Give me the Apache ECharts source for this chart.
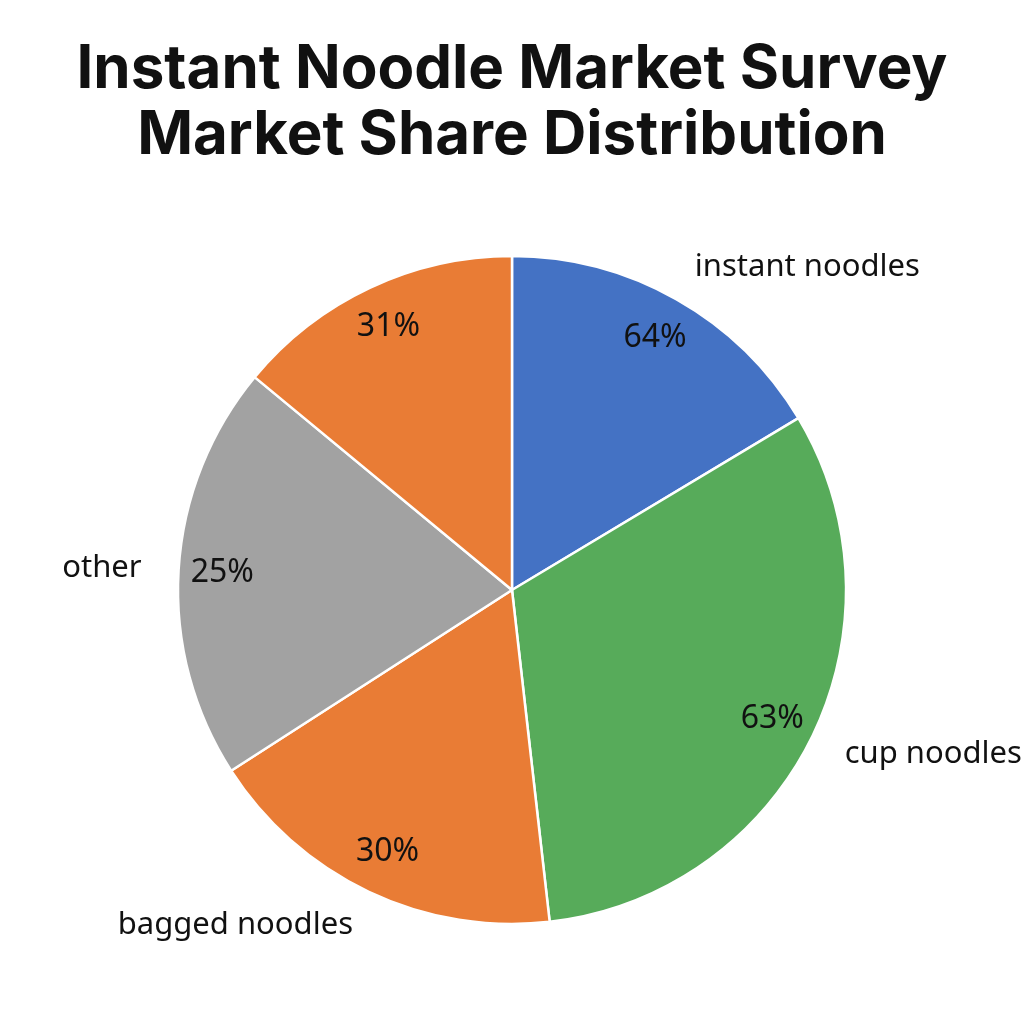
<!DOCTYPE html>
<html>
<head>
<meta charset="utf-8">
<script src="https://cdn.jsdelivr.net/npm/echarts@6/dist/echarts.min.js"></script>
<style>
html,body{margin:0;padding:0;background:#fff;}
#chart{width:1024px;height:1024px;}
</style>
</head>
<body>
<div id="chart"></div>
<script>
// Category names (the fifth slice carries no outside name in the reference)
const categories = ['instant noodles', 'cup noodles', 'bagged noodles', 'other', ''];
// Share of the circle each slice occupies (percent of 360°)
const sliceShares = [16.4, 31.8, 17.7, 20.1, 14.0];
// Percentages printed on the slices in the reference
const labelPercents = [64, 63, 30, 25, 31];
const sliceColors = ['#4472C4', '#57AB5A', '#E97C35', '#A2A2A2', '#E97C35'];

const titleLines = ['Instant Noodle Market Survey', 'Market Share Distribution'];

const chart = echarts.init(document.getElementById('chart'));

const R = 334;
const center = [512, 590];

const mainData = categories.map((name, i) => ({
  name: name,
  value: sliceShares[i],
  itemStyle: { color: sliceColors[i] },
  label: { show: name !== '' }
}));

const pctData = categories.map((name, i) => ({
  name: name + '#' + i,
  value: sliceShares[i],
  pct: labelPercents[i]
}));

chart.setOption({
  backgroundColor: '#ffffff',
  animation: false,
  title: {
    text: titleLines.join('\n'),
    left: 'center',
    top: 32,
    textStyle: {
      fontFamily: 'Inter, "Noto Sans", sans-serif',
      fontWeight: 'bold',
      fontSize: 60,
      lineHeight: 66,
      color: '#111111'
    }
  },
  series: [
    {
      type: 'pie',
      center: center,
      radius: [0, R],
      startAngle: 90,
      clockwise: true,
      avoidLabelOverlap: false,
      silent: true,
      itemStyle: { borderColor: '#ffffff', borderWidth: 2.5 },
      label: {
        show: true,
        position: 'outside',
        formatter: '{b}',
        fontFamily: '"Noto Sans", sans-serif',
        fontSize: 31,
        color: '#111111',
        distanceToLabelLine: 0
      },
      labelLine: { show: false, length: 37, length2: 0 },
      data: mainData
    },
    {
      type: 'pie',
      center: center,
      radius: [R * 0.72, R],
      startAngle: 90,
      clockwise: true,
      avoidLabelOverlap: false,
      silent: true,
      itemStyle: { color: 'rgba(0,0,0,0)', borderWidth: 0 },
      label: {
        show: true,
        position: 'inside',
        formatter: p => p.data.pct + '%',
        fontFamily: '"Noto Sans", sans-serif',
        fontSize: 32,
        color: '#111111'
      },
      labelLine: { show: false },
      data: pctData
    }
  ],
  graphic: [
    {
      type: 'text',
      right: 28,
      bottom: 30,
      style: {
        text: '豆包AI生成',
        font: 'bold 22px "Noto Sans CJK SC", sans-serif',
        fill: '#ffffff',
        shadowColor: 'rgba(0,0,0,0.25)',
        shadowBlur: 6
      }
    }
  ]
});
</script>
</body>
</html>
